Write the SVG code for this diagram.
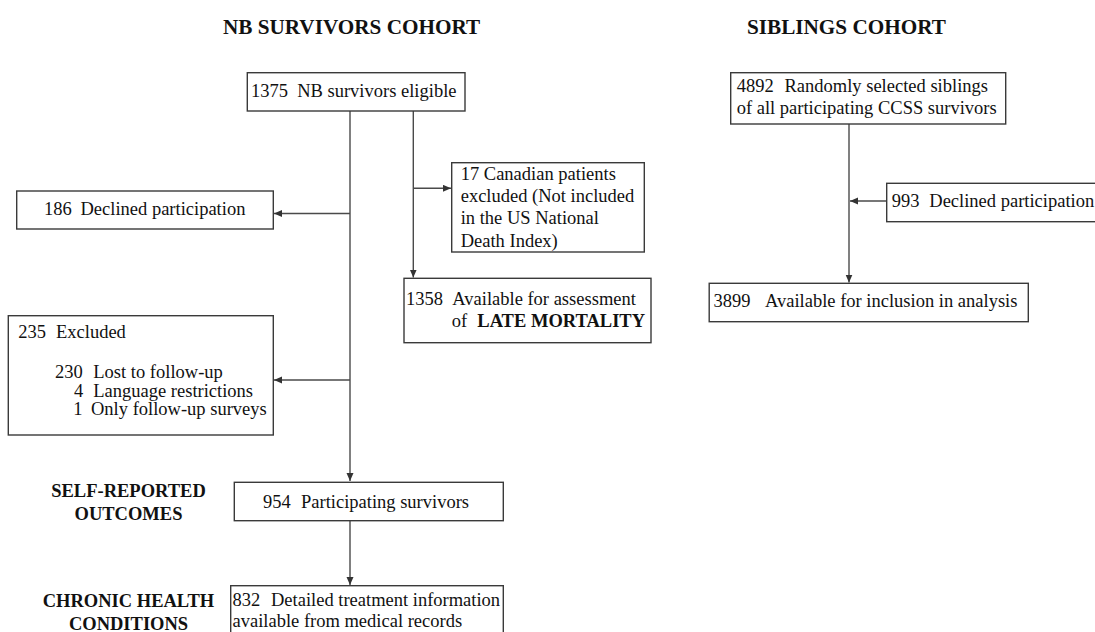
<svg xmlns="http://www.w3.org/2000/svg" width="1095" height="632" viewBox="0 0 1095 632">
<style>
.box{fill:#fff;stroke:#3a3a3a;stroke-width:1.4}
.t{font-family:"Liberation Serif","Times New Roman",serif;font-size:18.5px;fill:#111}
.b{font-weight:bold}
.title{font-family:"Liberation Serif","Times New Roman",serif;font-size:21.2px;font-weight:bold;fill:#111}
.lbl{font-family:"Liberation Serif","Times New Roman",serif;font-size:18.5px;font-weight:bold;fill:#111;text-anchor:middle}
.c{fill:none;stroke:#4a4a4a;stroke-width:1.4}
</style>
<defs>
<marker id="ah" markerUnits="userSpaceOnUse" markerWidth="9" markerHeight="8" refX="8" refY="3.5" orient="auto">
<path d="M0,0 L8,3.5 L0,7 z" fill="#333"/>
</marker>
</defs>
<text class="title" x="223" y="34">NB SURVIVORS COHORT</text>
<text class="title" x="747" y="34">SIBLINGS COHORT</text>
<text class="lbl" x="128.5" y="497">SELF-REPORTED</text>
<text class="lbl" x="128.5" y="519.5">OUTCOMES</text>
<text class="lbl" x="128.5" y="607">CHRONIC HEALTH</text>
<text class="lbl" x="128.5" y="630">CONDITIONS</text>
<g id="connectors">
<path class="c" d="M350,111 V481" marker-end="url(#ah)"/>
<path class="c" d="M350,213.5 H274" marker-end="url(#ah)"/>
<path class="c" d="M350,380 H274" marker-end="url(#ah)"/>
<path class="c" d="M413.3,111 V277.5" marker-end="url(#ah)"/>
<path class="c" d="M413.3,188.3 H451" marker-end="url(#ah)"/>
<path class="c" d="M350,520.7 V585" marker-end="url(#ah)"/>
<path class="c" d="M849,124 V282.5" marker-end="url(#ah)"/>
<path class="c" d="M886.7,201 H850" marker-end="url(#ah)"/>
</g>
<g id="n1375">
<rect class="box" x="247.3" y="72.7" width="217.7" height="38.3"/>
<text class="t" y="97.3"><tspan x="251">1375</tspan><tspan x="297.2">NB survivors eligible</tspan></text>
</g>
<g id="n186">
<rect class="box" x="16.7" y="191" width="256.6" height="38"/>
<text class="t" y="214.8"><tspan x="44">186</tspan><tspan x="80.5">Declined participation</tspan></text>
</g>
<g id="n17">
<rect class="box" x="451.7" y="162.7" width="192.6" height="89.3"/>
<text class="t"><tspan x="460.7" y="179.5">17 Canadian patients</tspan><tspan x="460.7" y="201.8">excluded (Not included</tspan><tspan x="460.7" y="224.2">in the US National</tspan><tspan x="460.7" y="246.6">Death Index)</tspan></text>
</g>
<g id="n1358">
<rect class="box" x="404" y="278.3" width="247" height="64.4"/>
<text class="t" y="305"><tspan x="406">1358</tspan><tspan x="452.3">Available for assessment</tspan></text>
<text class="t" y="326.8"><tspan x="451.7">of</tspan><tspan class="b" x="477.3">LATE MORTALITY</tspan></text>
</g>
<g id="n235">
<rect class="box" x="8.3" y="315.7" width="265" height="119.3"/>
<text class="t" y="337.5"><tspan x="18.3">235</tspan><tspan x="56">Excluded</tspan></text>
<text class="t" y="377.5"><tspan x="55">230</tspan><tspan x="93.3">Lost to follow-up</tspan></text>
<text class="t" y="396.7"><tspan x="74">4</tspan><tspan x="93.3">Language restrictions</tspan></text>
<text class="t" y="415.2"><tspan x="73.3">1</tspan><tspan x="91">Only follow-up surveys</tspan></text>
</g>
<g id="n954">
<rect class="box" x="234.3" y="482.3" width="269" height="38.4"/>
<text class="t" y="507.5"><tspan x="263">954</tspan><tspan x="301">Participating survivors</tspan></text>
</g>
<g id="n832">
<rect class="box" x="230.7" y="585.7" width="272.6" height="60"/>
<text class="t" y="606.2"><tspan x="232.5">832</tspan><tspan x="271">Detailed treatment information</tspan></text>
<text class="t" x="232.5" y="627">available from medical records</text>
</g>
<g id="n4892">
<rect class="box" x="730.7" y="72.7" width="275" height="51.3"/>
<text class="t" y="91.8"><tspan x="736.7">4892</tspan><tspan x="784.5">Randomly selected siblings</tspan></text>
<text class="t" x="736.7" y="114.4">of all participating CCSS survivors</text>
</g>
<g id="n993">
<rect class="box" x="886.7" y="183.3" width="220" height="38.4"/>
<text class="t" y="207.4"><tspan x="891.7">993</tspan><tspan x="929.3">Declined participation</tspan></text>
</g>
<g id="n3899">
<rect class="box" x="709.2" y="283.3" width="319.1" height="38.4"/>
<text class="t" y="306.8"><tspan x="713.4">3899</tspan><tspan x="765">Available for inclusion in analysis</tspan></text>
</g>
</svg>
